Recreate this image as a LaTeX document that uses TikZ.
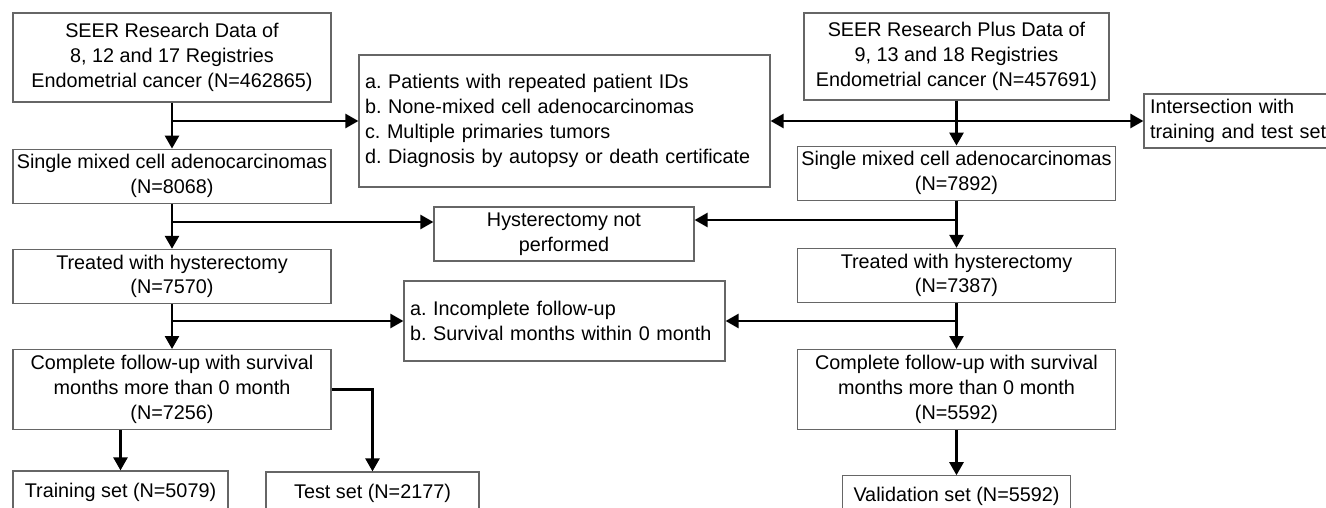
\documentclass[tikz,border=0pt]{standalone}
\usepackage{fontspec}
\setmainfont{Liberation Sans}
\usetikzlibrary{positioning,arrows.meta}
\frenchspacing

\begin{document}
\begin{tikzpicture}[x=1pt, y=1pt,
    box/.style = {draw=black!60, line width=1.2pt, rectangle, align=center, inner sep=0pt,
                  minimum width=318pt, minimum height=54pt, font=\fontsize{19.8}{24.8}\selectfont},
    note/.style = {box, align=left, inner xsep=6pt, minimum width=0pt},
    arr/.style = {line width=2.6pt, -{Triangle[length=13pt,width=14pt]}}]
    \useasboundingbox (0,0) rectangle (1326,-508);
    % left column
    \node[box, minimum height=89pt] (L1) at (172,-57.5) {SEER Research Data of\\8, 12 and 17 Registries\\Endometrial cancer (N=462865)};
    \node[box] (L2) [below=46pt of L1] {Single mixed cell adenocarcinomas\\(N=8068)};
    \node[box] (L3) [below=45pt of L2] {Treated with hysterectomy\\(N=7570)};
    \node[box, minimum height=80pt] (L4) [below=45pt of L3] {Complete follow-up with survival\\months more than 0 month\\(N=7256)};
    \node[box, minimum width=215pt, minimum height=42pt] (train) at (120.5,-492) {Training set (N=5079)};
    \node[box, minimum width=213pt, minimum height=42pt] (test) at (372.5,-493) {Test set (N=2177)};
    % right column
    \node[box, minimum width=305pt, minimum height=87pt] (R1) at (956.5,-56.5) {SEER Research Plus Data of\\9, 13 and 18 Registries\\Endometrial cancer (N=457691)};
    \node[box] (R2) [below=45pt of R1] {Single mixed cell adenocarcinomas\\(N=7892)};
    \node[box] (R3) [below=47pt of R2] {Treated with hysterectomy\\(N=7387)};
    \node[box, minimum height=80pt] (R4) [below=46pt of R3] {Complete follow-up with survival\\months more than 0 month\\(N=5592)};
    \node[box, minimum width=228pt, minimum height=42pt] (valid) [below=45pt of R4] {Validation set (N=5592)};
    % excluded
    \node[note, text width=399pt, minimum height=132pt] (ex1) at (564.5,-121) {a. Patients with repeated patient IDs\\b. None-mixed cell adenocarcinomas\\c. Multiple primaries tumors\\d. Diagnosis by autopsy or death certificate};
    \node[box, minimum width=260pt] (ex2) at (564,-234) {Hysterectomy not\\performed};
    \node[note, text width=309pt, minimum height=80pt] (ex3) at (564.5,-321) {a. Incomplete follow-up\\b. Survival months within 0 month};
    \node[note, text width=190pt] (inter) at (1245,-121) {Intersection with\\training and test set};
    \coordinate (e2w) at ([yshift=12pt]ex2.west);
    \coordinate (e2e) at ([yshift=14pt]ex2.east);

    \draw[arr] (L1.south) -- (L2.north);
    \draw[arr] (L1.south |- ex1.west) -- (ex1.west);
    \draw[arr] (L2.south) -- (L3.north);
    \draw[arr] (L2.south |- e2w) -- (e2w);
    \draw[arr] (L3.south) -- (L4.north);
    \draw[arr] (L3.south |- ex3.west) -- (ex3.west);
    \draw[arr] (L4.south -| train.north) -- (train.north);
    \draw[arr] (L4.east) -| (test.north);

    \draw[arr] (R1.south) -- (R2.north);
    \draw[arr] (R1.south |- ex1.east) -- (ex1.east);
    \draw[arr] (R1.south |- inter.west) -- (inter.west);
    \draw[arr] (R2.south) -- (R3.north);
    \draw[arr] (R2.south |- e2e) -- (e2e);
    \draw[arr] (R3.south) -- (R4.north);
    \draw[arr] (R3.south |- ex3.east) -- (ex3.east);
    \draw[arr] (R4.south) -- (valid.north);
\end{tikzpicture}
\end{document}
